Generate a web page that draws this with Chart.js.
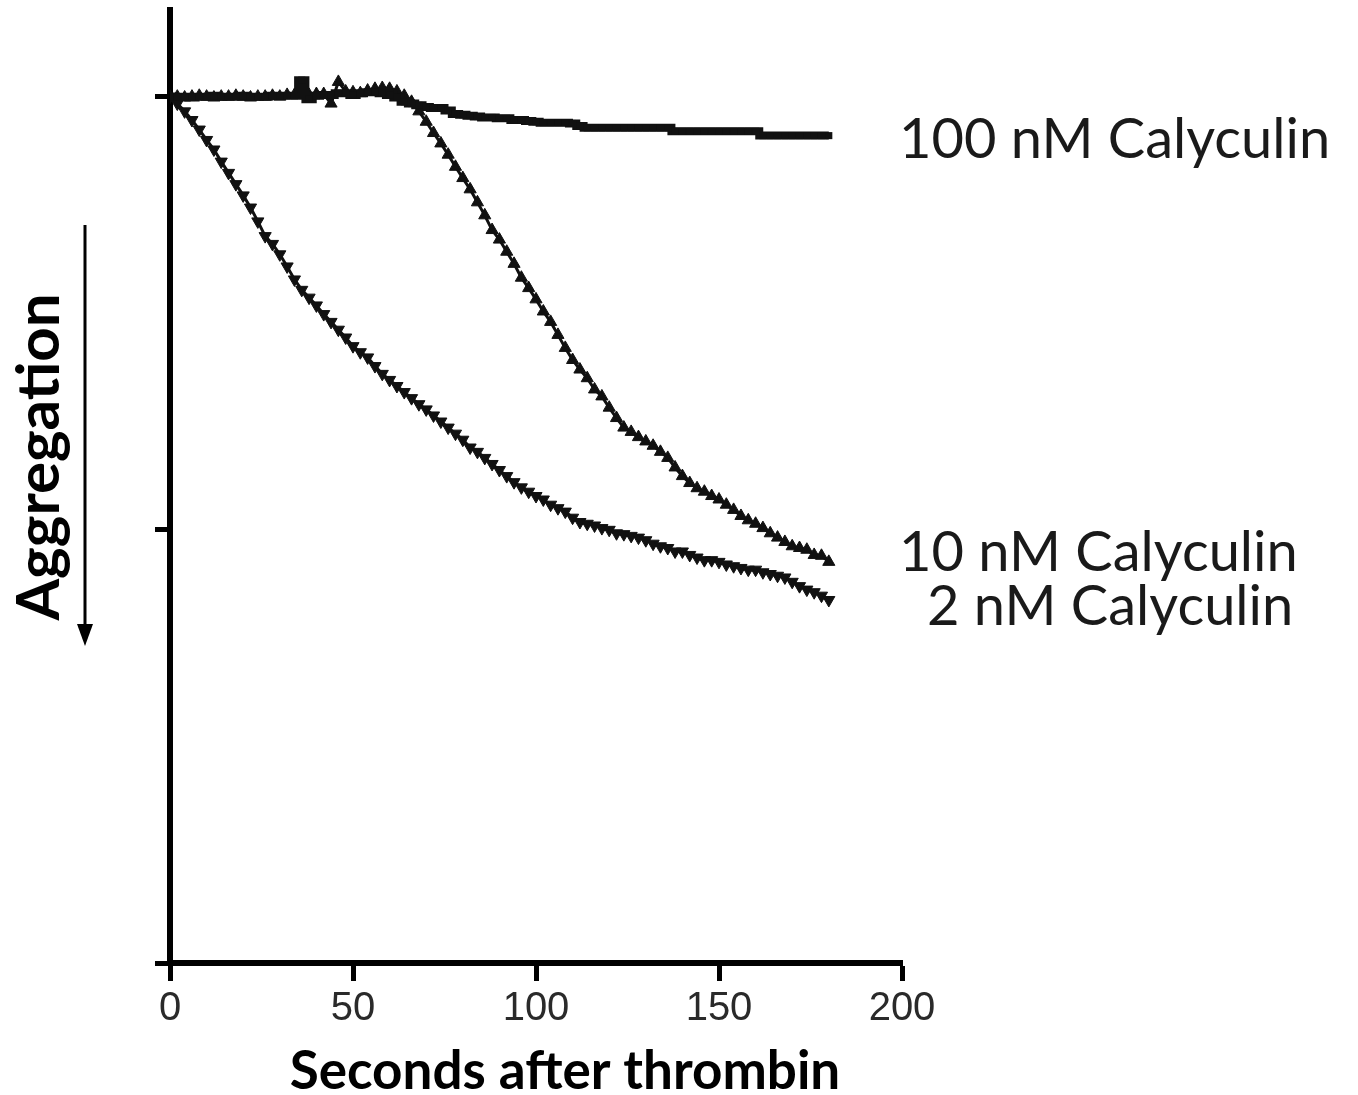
<!DOCTYPE html>
<html>
<head>
<meta charset="utf-8">
<script src="https://cdn.jsdelivr.net/npm/chart.js@4.4.0/dist/chart.umd.min.js"></script>
<style>
  body { margin: 0; background: #fff; }
  #wrap { width: 1358px; height: 1095px; }
</style>
</head>
<body>
<div id="wrap"><canvas id="aggChart" width="1358" height="1095"></canvas></div>
<script>
// time points (s after thrombin)
const seconds = [
  0, 2, 4, 6, 8, 10, 12, 14, 16, 18, 20, 22, 24, 26, 28, 30, 32, 34, 36, 38,
  40, 42, 44, 46, 48, 50, 52, 54, 56, 58, 60, 62, 64, 66, 68, 70, 72, 74, 76, 78,
  80, 82, 84, 86, 88, 90, 92, 94, 96, 98, 100, 102, 104, 106, 108, 110, 112, 114, 116, 118,
  120, 122, 124, 126, 128, 130, 132, 134, 136, 138, 140, 142, 144, 146, 148, 150, 152, 154, 156, 158,
  160, 162, 164, 166, 168, 170, 172, 174, 176, 178, 180
];

// aggregation (downwards = more)
const cal100 = [
  0, 0, 0, 0.1, 0, 0, -0.1, 0, 0, 0, -0.1, 0, 0, 0, -0.1, -0.1, -0.1, -0.1, -1.9, 0.3,
  -0.1, -0.2, -0.2, -0.4, -0.4, -0.2, -0.4, -0.5, -0.5, -0.4, -0.2, 0.1, 0.6, 0.8, 1.0, 1.2, 1.3, 1.3, 1.6, 2.0,
  2.1, 2.2, 2.3, 2.4, 2.4, 2.5, 2.5, 2.7, 2.7, 2.8, 2.9, 3.0, 3.0, 3.0, 3.0, 3.1, 3.4, 3.6, 3.6, 3.6,
  3.6, 3.6, 3.6, 3.6, 3.6, 3.6, 3.6, 3.6, 3.6, 4.0, 4.0, 4.0, 4.0, 4.0, 4.0, 4.0, 4.0, 4.0, 4.0, 4.0,
  4.0, 4.5, 4.5, 4.5, 4.5, 4.5, 4.5, 4.5, 4.5, 4.5, 4.5
];

const cal10 = [
  0, 0, 0.1, 0, -0.1, 0, 0.1, 0, 0, -0.1, 0, 0.1, 0, 0, -0.1, 0, -0.2, -0.2, -0.3, -0.2,
  -0.3, -0.3, 0.8, -1.7, -0.6, -0.5, -0.4, -0.7, -0.9, -1.0, -0.9, -0.6, -0.1, 0.6, 1.7, 2.9, 4.2, 5.4, 6.7, 8.1,
  9.4, 10.7, 12.2, 13.7, 15.4, 16.5, 17.9, 19.3, 20.9, 22.1, 23.4, 24.8, 26.0, 27.5, 29.0, 30.4, 31.5, 32.5, 33.8, 34.6,
  35.9, 37.1, 38.2, 38.7, 39.3, 39.8, 40.3, 41.0, 41.7, 42.8, 43.8, 44.6, 45.2, 45.6, 46.1, 46.5, 47.1, 47.7, 48.4, 48.9,
  49.3, 49.8, 50.4, 50.9, 51.4, 51.9, 52.1, 52.3, 52.9, 53.0, 53.7
];

const cal2 = [
  0, 0.8, 1.7, 2.7, 3.8, 5.0, 6.1, 7.5, 8.8, 10.1, 11.4, 12.8, 14.4, 16.1, 17.0, 18.2, 19.6, 21.1, 22.3, 23.2,
  24.1, 25.1, 26.0, 26.9, 27.8, 28.8, 29.5, 30.1, 31.1, 32.0, 32.7, 33.4, 34.1, 34.8, 35.5, 36.1, 36.8, 37.5, 38.2, 38.9,
  39.6, 40.5, 41.0, 41.7, 42.4, 43.1, 43.8, 44.5, 45.1, 45.6, 46.1, 46.5, 47.1, 47.5, 47.9, 48.6, 49.1, 49.3, 49.5, 49.8,
  50.0, 50.4, 50.5, 50.7, 50.9, 51.2, 51.6, 51.9, 52.1, 52.5, 52.5, 52.9, 53.2, 53.5, 53.5, 53.7, 54.0, 54.2, 54.4, 54.6,
  54.6, 54.9, 55.1, 55.3, 55.5, 56.0, 56.5, 56.9, 57.2, 57.6, 58.1
];

const seriesNames = ['100 nM Calyculin', '10 nM Calyculin', '2 nM Calyculin'];
const xTicks = [0, 50, 100, 150, 200];
const yTicks = [0, 50, 100];

const toXY = arr => arr.map((v, i) => ({ x: seconds[i], y: v }));

// labels at the right + axis titles + arrow
const annotate = {
    id: 'annotate',
    afterDraw(chart) {
        const ctx = chart.ctx;
        const xs = chart.scales.x, ys = chart.scales.y;
        ctx.save();
        ctx.fillStyle = '#1a1a1a';
        ctx.textBaseline = 'middle';
        ctx.textAlign = 'left';
        ctx.font = '56px Lato';
        const lx = xs.getPixelForValue(200) - 3;
        ctx.fillText(seriesNames[0], lx, ys.getPixelForValue(cal100[cal100.length - 1]) + 4);
        ctx.fillText(seriesNames[1], lx, ys.getPixelForValue(cal10[cal10.length - 1]) - 9);
        ctx.fillText(seriesNames[2], lx + 28, ys.getPixelForValue(cal2[cal2.length - 1]) + 7);

        // x title
        ctx.fillStyle = '#000';
        ctx.textAlign = 'center';
        ctx.font = 'bold 53px Lato';
        ctx.fillText('Seconds after thrombin', 565, 1072);

        // y title, rotated
        ctx.save();
        ctx.translate(40, 457);
        ctx.rotate(-Math.PI / 2);
        ctx.font = 'bold 60px Lato';
        ctx.fillText('Aggregation', 0, 0);
        ctx.restore();

        // arrow pointing down
        ctx.strokeStyle = '#000';
        ctx.lineWidth = 3;
        ctx.beginPath();
        ctx.moveTo(85, 225);
        ctx.lineTo(85, 630);
        ctx.stroke();
        ctx.beginPath();
        ctx.moveTo(77, 624);
        ctx.lineTo(93, 624);
        ctx.lineTo(85, 646);
        ctx.closePath();
        ctx.fill();
        ctx.restore();
    }
};

const ctx = document.getElementById('aggChart').getContext('2d');
new Chart(ctx, {
    type: 'scatter',
    data: {
        datasets: [
            {
                label: seriesNames[0],
                data: toXY(cal100),
                showLine: true,
                stepped: 'middle',
                borderColor: '#111',
                backgroundColor: '#111',
                borderWidth: 8,
                pointStyle: 'rect',
                pointRadius: 5,
                pointBorderWidth: 0
            },
            {
                label: seriesNames[1],
                data: toXY(cal10),
                showLine: true,
                borderColor: '#111',
                backgroundColor: '#111',
                borderWidth: 3,
                pointStyle: 'triangle',
                pointRadius: 7,
                pointBorderWidth: 1
            },
            {
                label: seriesNames[2],
                data: toXY(cal2),
                showLine: true,
                borderColor: '#111',
                backgroundColor: '#111',
                borderWidth: 3,
                pointStyle: 'triangle',
                pointRotation: 180,
                pointRadius: 7,
                pointBorderWidth: 1
            }
        ]
    },
    options: {
        responsive: false,
        animation: false,
        layout: { padding: { left: 110, right: 456, top: 10, bottom: 42 } },
        plugins: {
            legend: { display: false },
            tooltip: { enabled: false }
        },
        scales: {
            x: {
                type: 'linear',
                min: 0,
                max: 200,
                afterFit: s => { s.height = 90; },
                afterBuildTicks: s => { s.ticks = xTicks.map(v => ({ value: v })); },
                border: { display: true, color: '#000', width: 6 },
                grid: {
                    drawOnChartArea: false,
                    color: '#000',
                    tickLength: 18,
                    tickWidth: 5
                },
                ticks: {
                    color: '#2a2a2a',
                    padding: 4,
                    font: { family: 'Liberation Sans', size: 40 }
                }
            },
            y: {
                type: 'linear',
                reverse: true,
                min: -10,
                max: 100,
                afterFit: s => { s.width = 60; },
                afterBuildTicks: s => { s.ticks = yTicks.map(v => ({ value: v })); },
                border: { display: true, color: '#000', width: 6 },
                grid: {
                    drawOnChartArea: false,
                    color: '#000',
                    tickLength: 15,
                    tickWidth: 5
                },
                ticks: { display: false }
            }
        }
    },
    plugins: [annotate]
});
</script>
</body>
</html>
